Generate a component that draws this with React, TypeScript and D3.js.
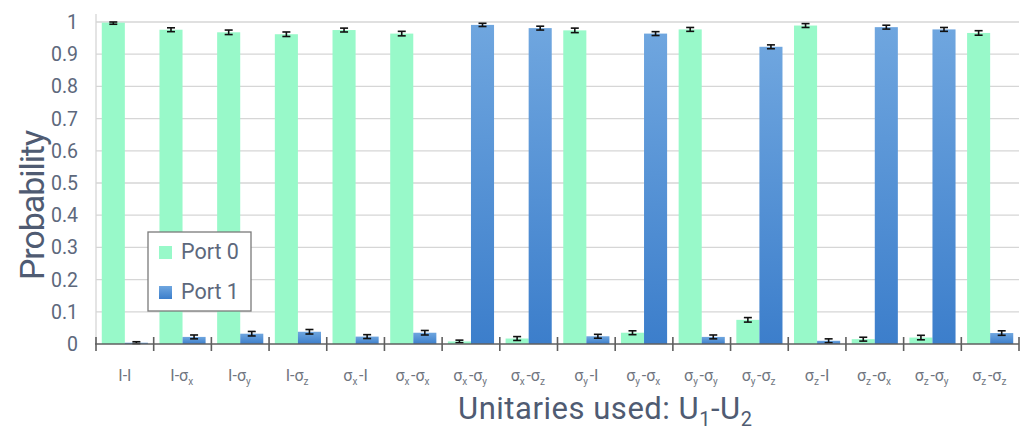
import React from "react";
import * as d3 from "d3";

const categories = [
  "I-I", "I-σx", "I-σy", "I-σz",
  "σx-I", "σx-σx", "σx-σy", "σx-σz",
  "σy-I", "σy-σx", "σy-σy", "σy-σz",
  "σz-I", "σz-σx", "σz-σy", "σz-σz",
];
const port0 = [0.998, 0.976, 0.968, 0.962, 0.975, 0.964, 0.008, 0.017, 0.974, 0.035, 0.977, 0.075, 0.989, 0.015, 0.020, 0.966];
const port1 = [0.004, 0.022, 0.032, 0.038, 0.023, 0.035, 0.991, 0.981, 0.024, 0.964, 0.022, 0.923, 0.010, 0.984, 0.977, 0.034];
const port0Err = [0.005, 0.006, 0.007, 0.007, 0.006, 0.007, 0.004, 0.006, 0.007, 0.006, 0.006, 0.007, 0.006, 0.006, 0.007, 0.007];
const port1Err = [0.003, 0.006, 0.007, 0.007, 0.006, 0.007, 0.005, 0.006, 0.006, 0.006, 0.006, 0.006, 0.006, 0.006, 0.006, 0.007];
const yTicks = [0, 0.1, 0.2, 0.3, 0.4, 0.5, 0.6, 0.7, 0.8, 0.9, 1];
const seriesNames = ["Port 0", "Port 1"];

const W = 1023;
const H = 432;
const plot = { left: 96, right: 1019, top: 22, bottom: 344 };
const GREEN = "#98f9c9";
const TEXT = "#5d687c";
const TITLE = "#4f5b72";
const FONT = "Roboto, 'Open Sans', sans-serif";

// Render an operator pair like "σx-I" with subscripted axis letters
function OpLabel({ label }: { label: string }) {
  const parts = label.split("-");
  const nodes: React.ReactNode[] = [];
  parts.forEach((p, i) => {
    if (i > 0) nodes.push(<tspan key={`d${i}`}>-</tspan>);
    if (p.startsWith("σ")) {
      nodes.push(<tspan key={`s${i}`}>σ</tspan>);
      nodes.push(
        <tspan key={`b${i}`} fontSize={10} dy={4}>{p.slice(1)}</tspan>
      );
      nodes.push(<tspan key={`r${i}`} dy={-4}>{"\u200A"}</tspan>);
    } else {
      nodes.push(<tspan key={`i${i}`}>{p}</tspan>);
    }
  });
  return <>{nodes}</>;
}

export default function App() {
  const x = d3.scaleBand<string>().domain(categories).range([plot.left, plot.right]).paddingInner(0).paddingOuter(0);
  const inner = d3.scaleBand<string>().domain(seriesNames).range([0, x.bandwidth()]).paddingOuter(0.25).paddingInner(0);
  const y = d3.scaleLinear().domain([0, 1]).range([plot.bottom, plot.top]);
  const series = [
    { name: seriesNames[0], values: port0, err: port0Err, fill: GREEN },
    { name: seriesNames[1], values: port1, err: port1Err, fill: "url(#blueGrad)" },
  ];
  const bw = inner.bandwidth();

  return (
    <svg width={W} height={H} style={{ position: "absolute", left: 0, top: 0, background: "#fff" }} fontFamily={FONT}>
      <defs>
        <linearGradient id="blueGrad" x1="0" y1="0" x2="0" y2="1">
          <stop offset="0%" stopColor="#6fa6df" />
          <stop offset="100%" stopColor="#3c7ecb" />
        </linearGradient>
      </defs>
      {/* grid */}
      {yTicks.filter((t) => t > 0).map((t) => (
        <line key={t} x1={plot.left} x2={plot.right} y1={y(t)} y2={y(t)} stroke="#d6d6d6" strokeWidth={1.3} />
      ))}
      <line x1={plot.left} x2={plot.left} y1={plot.top - 8} y2={plot.bottom} stroke="#d6d6d6" strokeWidth={1.3} />
      {/* y tick labels */}
      {yTicks.map((t) => (
        <text key={t} x={78} y={y(t) + 7} textAnchor="end" fontSize={19.5} fill={TEXT}>
          {d3.format("~g")(t)}
        </text>
      ))}
      {/* bars */}
      {series.map((s) => (
        <g key={s.name}>
          {categories.map((c, i) => {
            const bx = (x(c) as number) + (inner(s.name) as number);
            const v = s.values[i];
            return (
              <rect key={c} x={bx} y={y(v)} width={bw} height={y(0) - y(v)} fill={s.fill} />
            );
          })}
        </g>
      ))}
      {/* error bars */}
      {series.map((s) => (
        <g key={s.name + "e"} stroke="#111" strokeWidth={1.6}>
          {categories.map((c, i) => {
            const cx = (x(c) as number) + (inner(s.name) as number) + bw / 2;
            const v = s.values[i];
            const e = s.err[i];
            const y1 = y(Math.min(1, v + e));
            const y2 = y(Math.max(0, v - e));
            return (
              <g key={c}>
                <line x1={cx} x2={cx} y1={y1} y2={y2} />
                <line x1={cx - 4} x2={cx + 4} y1={y1} y2={y1} />
                <line x1={cx - 4} x2={cx + 4} y1={y2} y2={y2} />
              </g>
            );
          })}
        </g>
      ))}
      {/* x axis */}
      <line x1={plot.left - 1} x2={plot.right} y1={plot.bottom} y2={plot.bottom} stroke="#5f5f5f" strokeWidth={1.6} />
      {[...categories.map((c) => x(c) as number), plot.right].map((tx, i) => (
        <line key={i} x1={tx} x2={tx} y1={plot.bottom - 7} y2={plot.bottom + 7} stroke="#5f5f5f" strokeWidth={1.6} />
      ))}
      {categories.map((c) => (
        <text key={c} x={(x(c) as number) + x.bandwidth() / 2} y={381} textAnchor="middle" fontSize={16} fill="#6f7580">
          <OpLabel label={c} />
        </text>
      ))}
      {/* axis titles */}
      <text x={605} y={419} textAnchor="middle" fontSize={31} fill={TITLE} textLength={294} lengthAdjust="spacing">
        Unitaries used: U<tspan fontSize={20} dy={7}>1</tspan><tspan dy={-7}>-U</tspan><tspan fontSize={20} dy={7}>2</tspan>
      </text>
      <text transform={`translate(44,${205}) rotate(-90)`} textAnchor="middle" fontSize={34} fill={TITLE} textLength={150} lengthAdjust="spacing">
        Probability
      </text>
      {/* legend */}
      <g>
        <rect x={148} y={232} width={103} height={79} fill="#fff" stroke="#7a7a7a" strokeWidth={1.3} />
        {series.map((s, i) => (
          <g key={s.name} transform={`translate(159,${246 + i * 40})`}>
            <rect x={0} y={0} width={13} height={13} fill={s.fill} />
            <text x={22} y={13} fontSize={21.5} fill={TEXT}>{s.name}</text>
          </g>
        ))}
      </g>
    </svg>
  );
}
